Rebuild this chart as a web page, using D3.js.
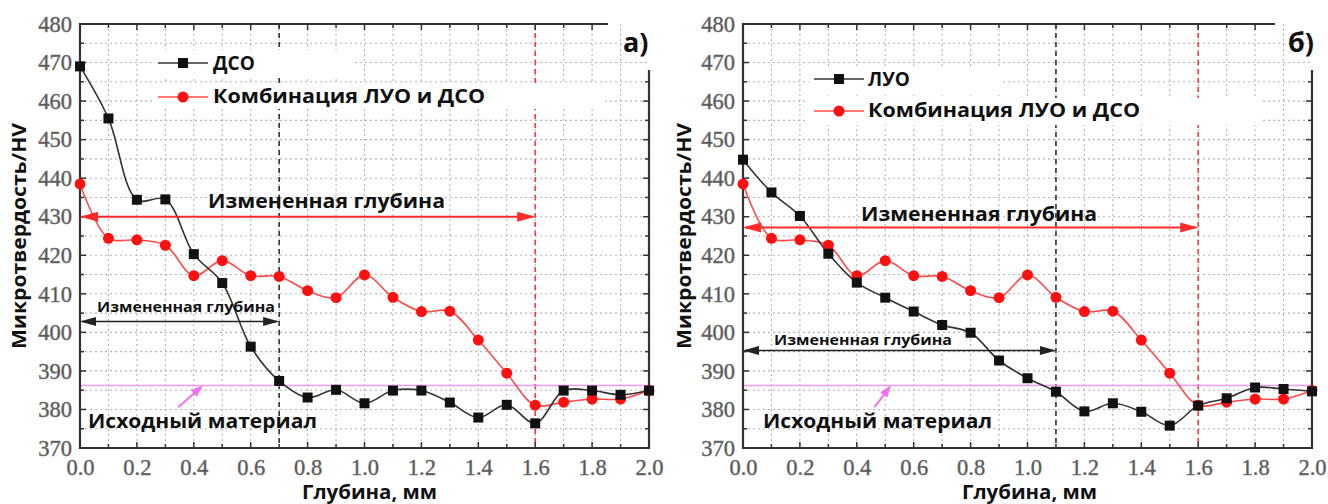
<!DOCTYPE html>
<html>
<head>
<meta charset="utf-8">
<script src="https://cdn.jsdelivr.net/npm/d3@7"></script>
<style>
  body { margin: 0; background: #fff; }
  svg { display: block; }
  .tick-label { font-family: "Liberation Serif", "Times New Roman", serif; font-size: 22.5px; }
</style>
</head>
<body>
<svg id="chart" width="1328" height="504"></svg>
<script>
// Microhardness profiles over depth (HV) for single and combined treatments
const depthMm = [0.0, 0.1, 0.2, 0.3, 0.4, 0.5, 0.6, 0.7, 0.8, 0.9, 1.0,
                 1.1, 1.2, 1.3, 1.4, 1.5, 1.6, 1.7, 1.8, 1.9, 2.0];
const hvDSO = [469.0, 455.5, 434.4, 434.5, 420.3, 412.8, 396.3, 387.4, 383.1, 385.1, 381.6,
               384.9, 384.9, 381.8, 377.9, 381.2, 376.4, 384.9, 384.9, 383.8, 384.9];
const hvLUO = [444.8, 436.3, 430.2, 420.4, 412.9, 409.0, 405.4, 401.9, 399.9, 392.7, 388.1,
               384.6, 379.5, 381.6, 379.4, 375.8, 381.0, 382.9, 385.7, 385.3, 384.7];
const hvCombined = [438.5, 424.4, 424.0, 422.6, 414.7, 418.6, 414.7, 414.5, 410.8, 409.0, 414.9,
                    409.1, 405.4, 405.5, 398.0, 389.4, 381.1, 381.9, 382.7, 382.7, 384.9];
const baseMaterialHV = 386.2;
const yTickValues = [370, 380, 390, 400, 410, 420, 430, 440, 450, 460, 470, 480];
const xTickValues = [0.0, 0.2, 0.4, 0.6, 0.8, 1.0, 1.2, 1.4, 1.6, 1.8, 2.0];

const labelFont = "'Open Sans', 'Noto Sans', sans-serif";

const svg = d3.select("#chart");
const W = 569, TOP = 24, BOTTOM = 448;

const x = d3.scaleLinear().domain([0, 2]).range([0, W]);
const y = d3.scaleLinear().domain([370, 480]).range([BOTTOM, TOP]);

const panels = [
  {
    x0: 80, tag: "а)", singleName: "ДСО", single: hvDSO,
    singleDepth: 0.7, singleArrowHV: 402.8, combinedArrowHV: 430.0,
    legendY: [63, 97], legendX: 78, legendTextX: 133,
    boxes: [[75, 50, 197, 26], [73, 84, 452, 25]],
    bigLabel: { cx: 246.5, by: 208, w: 237 },
    smallLabel: { cx: 106, by: 312, w: 178 },
    baseLabel: { x: 8, by: 428, w: 229 },
    pointer: { from: [0.345, 380.6], to: [0.432, 386.2] },
    yTitleX: -54, xTitleX: 289.5,
    tagX: 543, frameTopEnd: 528, rightAxisStart: 70
  },
  {
    x0: 743, tag: "б)", singleName: "ЛУО", single: hvLUO,
    singleDepth: 1.1, singleArrowHV: 395.3, combinedArrowHV: 427.2,
    legendY: [79, 111], legendX: 71, legendTextX: 125,
    boxes: [[66, 66, 193, 29], [65, 98, 455, 27]],
    bigLabel: { cx: 236, by: 221, w: 236 },
    smallLabel: { cx: 120, by: 345, w: 178 },
    baseLabel: { x: 20, by: 428, w: 229 },
    pointer: { from: [0.462, 380.6], to: [0.52, 386.2] },
    yTitleX: -52, xTitleX: 286.5,
    tagX: 545, frameTopEnd: 532, rightAxisStart: 70
  }
];

function arrowHead(g, px, py, angle, len, half, color) {
  const c = Math.cos(angle), s = Math.sin(angle);
  const bx = px - c * len, by = py - s * len;
  g.append("path")
    .attr("d", `M${px},${py}L${bx - s * half},${by + c * half}L${bx + s * half},${by - c * half}Z`)
    .attr("fill", color);
}

function doubleArrow(g, x1, x2, yy, color, width, len, half) {
  g.append("line").attr("x1", x1 + 2).attr("x2", x2 - 2).attr("y1", yy).attr("y2", yy)
    .attr("stroke", color).attr("stroke-width", width);
  arrowHead(g, x1, yy, Math.PI, len, half, color);
  arrowHead(g, x2, yy, 0, len, half, color);
}

const minorX = d3.range(0, 21).map(i => i / 10);
const minorY = d3.range(0, 23).map(i => 370 + i * 5);

panels.forEach(p => {
  const g = svg.append("g").attr("transform", `translate(${p.x0},0)`);

  // dotted grid
  const grid = g.append("g").attr("stroke", "#b4b4b4").attr("stroke-width", 1.1)
    .attr("stroke-dasharray", "2,3");
  minorX.slice(1, -1).forEach(v => grid.append("line")
    .attr("x1", x(v)).attr("x2", x(v)).attr("y1", TOP).attr("y2", BOTTOM));
  minorY.slice(1, -1).forEach(v => grid.append("line")
    .attr("x1", 0).attr("x2", W).attr("y1", y(v)).attr("y2", y(v)));

  // depth markers
  g.append("line").attr("x1", x(p.singleDepth)).attr("x2", x(p.singleDepth))
    .attr("y1", TOP).attr("y2", BOTTOM)
    .attr("stroke", "#333").attr("stroke-width", 1.6).attr("stroke-dasharray", "5,4");
  g.append("line").attr("x1", x(1.6)).attr("x2", x(1.6))
    .attr("y1", TOP).attr("y2", BOTTOM)
    .attr("stroke", "#ff3b3b").attr("stroke-width", 1.6).attr("stroke-dasharray", "5,4");

  // white backing behind legend rows
  p.boxes.forEach(b => g.append("rect").attr("x", b[0]).attr("y", b[1])
    .attr("width", b[2]).attr("height", b[3]).attr("fill", "#fff"));

  // base material level
  g.append("line").attr("x1", 0).attr("x2", W)
    .attr("y1", y(baseMaterialHV)).attr("y2", y(baseMaterialHV))
    .attr("stroke", "#f59af5").attr("stroke-width", 1.6);

  // frame
  const frame = g.append("g").attr("stroke", "#333").attr("stroke-width", 2.2).attr("fill", "none");
  frame.append("path").attr("d",
    `M${p.frameTopEnd},${TOP}L0,${TOP}L0,${BOTTOM}L${W},${BOTTOM}L${W},${p.rightAxisStart}`);

  // inward ticks
  const tk = g.append("g").attr("stroke", "#333").attr("stroke-width", 1.5);
  minorX.forEach((v, i) => {
    const len = i % 2 === 0 ? 6 : 4;
    tk.append("line").attr("x1", x(v)).attr("x2", x(v)).attr("y1", BOTTOM).attr("y2", BOTTOM - len);
    if (x(v) <= p.frameTopEnd)
      tk.append("line").attr("x1", x(v)).attr("x2", x(v)).attr("y1", TOP).attr("y2", TOP + len);
  });
  minorY.forEach((v, i) => {
    const len = i % 2 === 0 ? 6 : 4;
    tk.append("line").attr("x1", 0).attr("x2", len).attr("y1", y(v)).attr("y2", y(v));
    if (y(v) >= p.rightAxisStart)
      tk.append("line").attr("x1", W).attr("x2", W - len).attr("y1", y(v)).attr("y2", y(v));
  });

  // tick labels via axes
  const xAxis = g.append("g").attr("transform", `translate(0,${BOTTOM})`)
    .call(d3.axisBottom(x).tickValues(xTickValues).tickFormat(d3.format(".1f"))
      .tickSize(0).tickPadding(11));
  const yAxis = g.append("g")
    .call(d3.axisLeft(y).tickValues(yTickValues).tickSize(0).tickPadding(8));
  [xAxis, yAxis].forEach(a => {
    a.attr("font-family", null).attr("font-size", null);
    a.select(".domain").remove();
    a.selectAll("text").attr("class", "tick-label")
      .attr("fill", "#555").attr("stroke", "#777").attr("stroke-width", 0.5);
  });

  // series
  const lineGen = d3.line().x((d, i) => x(depthMm[i])).y(d => y(d)).curve(d3.curveCatmullRom.alpha(0.5));
  g.append("path").datum(hvCombined).attr("d", lineGen)
    .attr("fill", "none").attr("stroke", "#ff4a4a").attr("stroke-width", 1.6);
  g.append("path").datum(p.single).attr("d", lineGen)
    .attr("fill", "none").attr("stroke", "#333").attr("stroke-width", 1.6);

  g.append("g").selectAll("circle").data(hvCombined).join("circle")
    .attr("cx", (d, i) => x(depthMm[i])).attr("cy", d => y(d)).attr("r", 5.5).attr("fill", "#ff1010");
  g.append("g").selectAll("rect").data(p.single).join("rect")
    .attr("x", (d, i) => x(depthMm[i]) - 5).attr("y", d => y(d) - 5)
    .attr("width", 10).attr("height", 10).attr("fill", "#111");

  // changed-depth arrows
  doubleArrow(g, x(0), x(1.6), y(p.combinedArrowHV), "#ff2a2a", 2, 18, 5);
  doubleArrow(g, x(0), x(p.singleDepth), y(p.singleArrowHV), "#222", 1.6, 16, 4.5);

  // pointer to base material level
  const [fx, fy] = [x(p.pointer.from[0]), y(p.pointer.from[1])];
  const [hx, hy] = [x(p.pointer.to[0]), y(p.pointer.to[1])];
  const ang = Math.atan2(hy - fy, hx - fx);
  g.append("line").attr("x1", fx).attr("y1", fy)
    .attr("x2", hx - Math.cos(ang) * 6).attr("y2", hy - Math.sin(ang) * 6)
    .attr("stroke", "#f570f5").attr("stroke-width", 2);
  arrowHead(g, hx, hy, ang, 12, 4.5, "#f570f5");

  // text labels
  const bold = (sel) => sel.attr("font-family", labelFont).attr("font-weight", 700).attr("fill", "#111")
    .attr("lengthAdjust", "spacingAndGlyphs");
  bold(g.append("text").attr("x", p.bigLabel.cx).attr("y", p.bigLabel.by).attr("text-anchor", "middle")
    .attr("font-size", 19).attr("textLength", p.bigLabel.w).text("Измененная глубина"));
  bold(g.append("text").attr("x", p.smallLabel.cx).attr("y", p.smallLabel.by).attr("text-anchor", "middle")
    .attr("font-size", 14).attr("textLength", p.smallLabel.w).text("Измененная глубина"));
  bold(g.append("text").attr("x", p.baseLabel.x).attr("y", p.baseLabel.by)
    .attr("font-size", 19).attr("textLength", p.baseLabel.w).text("Исходный материал"));

  // legend
  const lg = g.append("g");
  lg.append("line").attr("x1", p.legendX).attr("x2", p.legendX + 50)
    .attr("y1", p.legendY[0]).attr("y2", p.legendY[0]).attr("stroke", "#333").attr("stroke-width", 1.6);
  lg.append("rect").attr("x", p.legendX + 20).attr("y", p.legendY[0] - 5).attr("width", 10).attr("height", 10)
    .attr("fill", "#111");
  lg.append("line").attr("x1", p.legendX).attr("x2", p.legendX + 50)
    .attr("y1", p.legendY[1]).attr("y2", p.legendY[1]).attr("stroke", "#ff4a4a").attr("stroke-width", 1.6);
  lg.append("circle").attr("cx", p.legendX + 25).attr("cy", p.legendY[1]).attr("r", 5.5).attr("fill", "#ff1010");
  bold(lg.append("text").attr("x", p.legendTextX).attr("y", p.legendY[0] + 7)
    .attr("font-size", 19).text(p.singleName));
  bold(lg.append("text").attr("x", p.legendTextX).attr("y", p.legendY[1] + 6)
    .attr("font-size", 19).attr("textLength", 272).text("Комбинация ЛУО и ДСО"));

  // panel tag
  bold(g.append("text").attr("x", p.tagX).attr("y", 52).attr("font-size", 27).text(p.tag));

  // axis titles
  bold(g.append("text").attr("transform", `translate(${p.yTitleX},${(TOP + BOTTOM) / 2}) rotate(-90)`)
    .attr("text-anchor", "middle").attr("font-size", 19).attr("textLength", 226).text("Микротвердость/HV"));
  bold(g.append("text").attr("x", p.xTitleX).attr("y", 499).attr("text-anchor", "middle")
    .attr("font-size", 19).attr("textLength", 135).text("Глубина, мм"));
});
</script>
</body>
</html>
